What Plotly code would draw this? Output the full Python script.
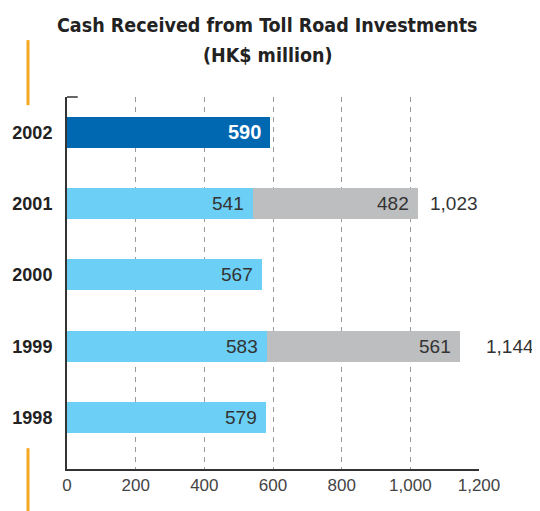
import plotly.graph_objects as go

years = ["1998", "1999", "2000", "2001", "2002"]
own_cash = [579, 583, 567, 541, 590]
extra_cash = [None, 561, None, 482, None]
highlight_year = "2002"
x_ticks = [0, 200, 400, 600, 800, 1000, 1200]
title_lines = ["Cash Received from Toll Road Investments", "(HK$ million)"]

LIGHT = "#6BCFF6"
DARK = "#0067B1"
GREY = "#BDBEC0"
ORANGE = "#F7A823"
TXT = "#333333"
BODY_FONT = "Liberation Sans"
HEAD_FONT = "Liberation Sans Narrow, DejaVu Sans Condensed, Liberation Sans"

fig = go.Figure()
fig.add_trace(go.Bar(
    y=years, x=own_cash, orientation="h", width=0.435,
    marker=dict(color=[DARK if y == highlight_year else LIGHT for y in years], line=dict(width=0)),
    hoverinfo="skip",
))
fig.add_trace(go.Bar(
    y=years, x=extra_cash, orientation="h", width=0.435,
    marker=dict(color=GREY, line=dict(width=0)),
    hoverinfo="skip",
))

total_gap = {"2001": 10, "1999": 24}
for i, (y, a, b) in enumerate(zip(years, own_cash, extra_cash)):
    hl = y == highlight_year
    fig.add_annotation(
        x=a, y=i, text=f"<b>{a}</b>" if hl else f"{a}", showarrow=False,
        xanchor="right", xshift=-7,
        font=dict(family=BODY_FONT, size=20 if hl else 19, color="white" if hl else TXT),
    )
    if b is not None:
        fig.add_annotation(
            x=a + b, y=i, text=f"{b}", showarrow=False, xanchor="right", xshift=-7,
            font=dict(family=BODY_FONT, size=19, color=TXT),
        )
        fig.add_annotation(
            x=a + b, y=i, text=f"{a + b:,}", showarrow=False, xanchor="left",
            xshift=total_gap.get(y, 10),
            font=dict(family=BODY_FONT, size=19, color=TXT),
        )

# title (two lines, placed separately for spacing)
for line, ypos in zip(title_lines, [1.1935, 1.1129]):
    fig.add_annotation(
        xref="paper", yref="paper", x=(259.5 - 59) / 412, y=ypos,
        xanchor="center", yanchor="middle", showarrow=False,
        text=f"<b>{line}</b>",
        font=dict(family=HEAD_FONT, size=19.5, color="#222222"),
    )

# decorative orange rules and top-left axis tick
fig.add_shape(type="line", xref="paper", yref="paper", x0=-0.0947, x1=-0.0947,
              y0=0.978, y1=1.153, line=dict(color=ORANGE, width=3))
fig.add_shape(type="line", xref="paper", yref="paper", x0=-0.0947, x1=-0.0947,
              y0=-0.12, y1=0.056, line=dict(color=ORANGE, width=3))
fig.add_shape(type="line", xref="paper", yref="paper", x0=0, x1=0.026,
              y0=1, y1=1, line=dict(color="#333333", width=1.5))

fig.update_layout(
    width=532, height=503,
    margin=dict(l=59, r=61, t=89, b=42, autoexpand=False),
    barmode="stack", bargap=0,
    paper_bgcolor="white", plot_bgcolor="white",
    showlegend=False,
    xaxis=dict(
        range=[0, 1200], tickvals=x_ticks, tickformat=",d", automargin=False,
        showgrid=True, gridcolor="#9a9a9a", gridwidth=1, griddash="5px,5px",
        zeroline=False, showline=True, linecolor="#333333", linewidth=2,
        ticks="", tickfont=dict(family=BODY_FONT, size=17, color="#444444"),
        fixedrange=True,
    ),
    yaxis=dict(
        type="category", categoryorder="array", categoryarray=years,
        range=[-0.723, 4.498], automargin=False,
        showgrid=False, zeroline=False, showline=True, linecolor="#333333", linewidth=2,
        ticks="", ticklabelstandoff=9,
        tickfont=dict(family=BODY_FONT, size=18, color="#222222", weight="bold"),
        fixedrange=True,
    ),
)

fig.write_html("out.html")
